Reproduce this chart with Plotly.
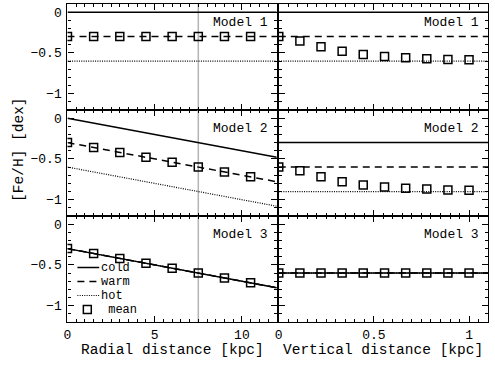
import plotly.graph_objects as go

# ---------------- data ----------------
r_line = [0, 12]
r_mean = [0, 1.5, 3, 4.5, 6, 7.5, 9, 10.5]
z_line = [0, 1.1]
z_mean = [0, 0.111, 0.222, 0.333, 0.444, 0.556, 0.667, 0.778, 0.889, 1.0]
r_sun = 7.5

# Model 1 (radial)
m1r_cold = [0.0, 0.0]
m1r_warm = [-0.3, -0.3]
m1r_hot = [-0.6, -0.6]
m1r_mean = [-0.3, -0.3, -0.3, -0.3, -0.3, -0.3, -0.3, -0.3]
# Model 2 (radial)
m2r_cold = [0.0, -0.48]
m2r_warm = [-0.3, -0.78]
m2r_hot = [-0.6, -1.08]
m2r_mean = [-0.3, -0.36, -0.42, -0.48, -0.54, -0.6, -0.66, -0.72]
# Model 3 (radial)
m3r_cold = [-0.3, -0.78]
m3r_warm = [-0.3, -0.78]
m3r_hot = [-0.3, -0.78]
m3r_mean = [-0.3, -0.36, -0.42, -0.48, -0.54, -0.6, -0.66, -0.72]

# Model 1 (vertical)
m1z_cold = [0.0, 0.0]
m1z_warm = [-0.3, -0.3]
m1z_hot = [-0.6, -0.6]
m1z_mean = [-0.3, -0.355, -0.425, -0.48, -0.52, -0.545, -0.56, -0.57, -0.58, -0.585]
# Model 2 (vertical)
m2z_cold = [-0.3, -0.3]
m2z_warm = [-0.6, -0.6]
m2z_hot = [-0.9, -0.9]
m2z_mean = [-0.6, -0.645, -0.72, -0.78, -0.82, -0.845, -0.86, -0.87, -0.88, -0.885]
# Model 3 (vertical)
m3z_cold = [-0.6, -0.6]
m3z_warm = [-0.6, -0.6]
m3z_hot = [-0.6, -0.6]
m3z_mean = [-0.6, -0.6, -0.6, -0.6, -0.6, -0.6, -0.6, -0.6, -0.6, -0.6]

models = ["Model 1", "Model 2", "Model 3"]
legend_labels = ["cold", "warm", "hot", "mean"]
y_range = [-1.2, 0.1]
y_ticks = [0, -0.5, -1]

# ---------------- figure ----------------
W, H = 495, 365
FONT = "Liberation Mono, Courier New, monospace"
fig = go.Figure()

xl_dom = [64 / W, 275 / W]
xr_dom = [277 / W, 488 / W]
rows_px = [(4, 110), (110, 216), (216, 322)]

HOT = dict(color="black", width=1.2, dash="1px,1.3px")
WARM = dict(color="black", width=1.5, dash="7px,5px")
COLD = dict(color="black", width=1.5)

panels = [
    (r_line, r_mean, m1r_cold, m1r_warm, m1r_hot, m1r_mean),
    (z_line, z_mean, m1z_cold, m1z_warm, m1z_hot, m1z_mean),
    (r_line, r_mean, m2r_cold, m2r_warm, m2r_hot, m2r_mean),
    (z_line, z_mean, m2z_cold, m2z_warm, m2z_hot, m2z_mean),
    (r_line, r_mean, m3r_cold, m3r_warm, m3r_hot, m3r_mean),
    (z_line, z_mean, m3z_cold, m3z_warm, m3z_hot, m3z_mean),
]

for i, (xl, xm, cold, warm, hot, mean) in enumerate(panels):
    n = i + 1
    row, col = i // 2, i % 2
    xa = "x" if n == 1 else f"x{n}"
    ya = "y" if n == 1 else f"y{n}"
    if col == 0:
        fig.add_trace(go.Scatter(x=[r_sun, r_sun], y=y_range, mode="lines",
                                 line=dict(color="#b4b4b4", width=1.5),
                                 hoverinfo="skip", xaxis=xa, yaxis=ya))
    fig.add_trace(go.Scatter(x=xl, y=hot, mode="lines", name="hot", line=HOT,
                             xaxis=xa, yaxis=ya))
    fig.add_trace(go.Scatter(x=xl, y=warm, mode="lines", name="warm", line=WARM,
                             xaxis=xa, yaxis=ya))
    fig.add_trace(go.Scatter(x=xl, y=cold, mode="lines", name="cold", line=COLD,
                             xaxis=xa, yaxis=ya))
    fig.add_trace(go.Scatter(x=xm, y=mean, mode="markers", name="mean",
                             marker=dict(symbol="square-open", size=8, color="black",
                                         line=dict(width=1.5, color="black")),
                             xaxis=xa, yaxis=ya))

    top, bot = rows_px[row]
    ydom = [1 - bot / H, 1 - top / H]
    xdom = xl_dom if col == 0 else xr_dom
    if col == 0:
        xax = dict(range=[0, 12], tickvals=[0, 5, 10],
                   minor=dict(dtick=0.5, tick0=0, ticklen=3, ticks="inside", tickcolor="black"))
    else:
        xax = dict(range=[0, 1.1], tickvals=[0, 0.5, 1],
                   minor=dict(dtick=0.05, tick0=0, ticklen=3, ticks="inside", tickcolor="black"))
    xax.update(domain=xdom, anchor=ya, showline=True, mirror="allticks", linecolor="black",
               linewidth=1.3, ticks="inside", ticklen=6, tickcolor="black", tickwidth=1,
               showgrid=False, zeroline=False, showticklabels=(row == 2),
               tickfont=dict(family=FONT, size=13, color="black"))
    yax = dict(range=y_range, tickvals=y_ticks, domain=ydom, anchor=xa, showline=True,
               mirror="allticks", linecolor="black", linewidth=1.3, ticks="inside",
               ticklen=6, tickcolor="black", tickwidth=1, showgrid=False, zeroline=False,
               minor=dict(dtick=0.1, tick0=0, ticklen=3, ticks="inside", tickcolor="black"),
               showticklabels=(col == 0), ticklabelstandoff=2,
               tickfont=dict(family=FONT, size=13, color="black"))
    fig.update_layout(**{("xaxis" if n == 1 else f"xaxis{n}"): xax,
                         ("yaxis" if n == 1 else f"yaxis{n}"): yax})
    fig.add_annotation(text=models[row], xref=f"{xa} domain", yref=f"{ya} domain",
                       x=1, y=1, xanchor="right", yanchor="top", xshift=-7, yshift=-9,
                       showarrow=False, font=dict(family=FONT, size=13, color="black"))

# ---- compact legend inside the Model 3 radial panel (decoration only) ----
leg_x0, leg_x1, leg_tx = 74, 96, 97
leg_rows = [267.5, 281.5, 295.5, 309.5]
leg_styles = [COLD, WARM, HOT, None]
for lab, ypx, sty in zip(legend_labels, leg_rows, leg_styles):
    yp = 1 - ypx / H
    if sty is not None:
        fig.add_shape(type="line", xref="paper", yref="paper",
                      x0=leg_x0 / W, x1=leg_x1 / W, y0=yp, y1=yp,
                      line=dict(color="black", width=sty["width"], dash=sty.get("dash", "solid")))
    else:
        fig.add_shape(type="rect", xref="paper", yref="paper",
                      x0=80 / W, x1=88 / W, y0=yp - 4 / H, y1=yp + 4 / H,
                      line=dict(color="black", width=1.5))
    fig.add_annotation(text=(" " + lab) if sty is None else lab, xref="paper", yref="paper",
                       x=leg_tx / W, y=yp, xanchor="left", yanchor="middle", showarrow=False,
                       borderpad=0, font=dict(family=FONT, size=12, color="black"))

fig.add_annotation(text="Radial distance [kpc]", xref="paper", yref="paper",
                   x=(64 + 275) / 2 / W, y=1 - 350 / H, xanchor="center", yanchor="middle",
                   showarrow=False, font=dict(family=FONT, size=14.5, color="black"))
fig.add_annotation(text="Vertical distance [kpc]", xref="paper", yref="paper",
                   x=(277 + 488) / 2 / W, y=1 - 350 / H, xanchor="center", yanchor="middle",
                   showarrow=False, font=dict(family=FONT, size=14.5, color="black"))
fig.add_annotation(text="[Fe/H] [dex]", xref="paper", yref="paper",
                   x=15 / W, y=1 - 150 / H, xanchor="center", yanchor="middle",
                   textangle=-90, showarrow=False,
                   font=dict(family=FONT, size=14.5, color="black"))

fig.update_layout(
    width=W, height=H, margin=dict(l=0, r=0, t=0, b=0),
    paper_bgcolor="white", plot_bgcolor="white",
    showlegend=False,
)

fig.write_html("out.html")
